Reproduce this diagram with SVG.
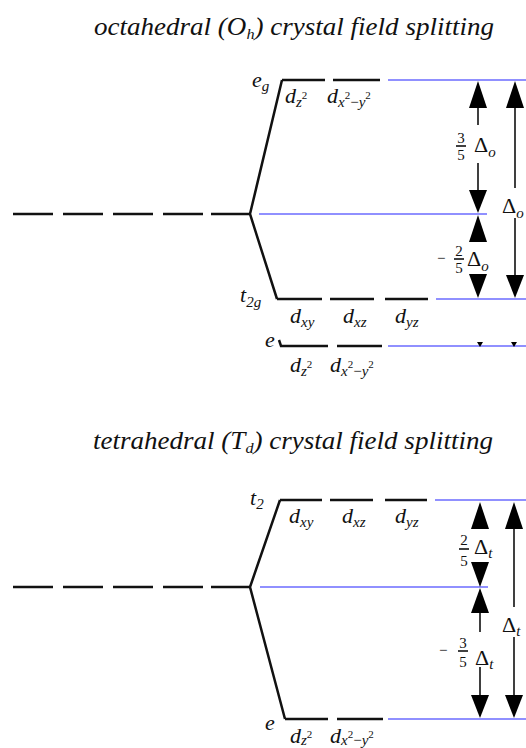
<svg xmlns="http://www.w3.org/2000/svg" width="526" height="748" viewBox="0 0 526 748" font-family="'Liberation Serif', serif">
<style>
text{font-style:italic;fill:#111}
.title{font-size:25px}
.lbl{font-size:22px}
.sub{font-size:15px}
.sup{font-size:11px;font-style:normal}
.num{font-size:15px;font-style:normal}
.del{font-size:22px;font-style:normal}
.lvl{stroke:#111;stroke-width:2.5;fill:none}
.blue{stroke:#6b6bff;stroke-width:1.6;fill:none}
.shaft{stroke:#111;stroke-width:1.6;fill:none}
.head{fill:#000}
</style>
<rect width="526" height="748" fill="#fff"/>

<g id="title-oct"><text class="title" x="94" y="35" textLength="400" lengthAdjust="spacingAndGlyphs" style="font-family:'Liberation Serif',serif">octahedral (O<tspan class="sub" dy="4">h</tspan><tspan dy="-4">) crystal field splitting</tspan></text></g>
<g id="title-tet"><text class="title" x="93" y="449" textLength="400" lengthAdjust="spacingAndGlyphs" style="font-family:'Liberation Serif',serif">tetrahedral (T<tspan class="sub" dy="4">d</tspan><tspan dy="-4">) crystal field splitting</tspan></text></g>

<!-- octahedral -->
<g id="oct-free">
<path class="lvl" d="M13,214H53M63,214H103M113,214H153M163,214H203M211,214H250"/>
<path class="blue" d="M259,214H487"/>
</g>
<g id="oct-eg">
<path class="lvl" d="M282,80H325M333,80H380"/>
<path class="blue" d="M388,80H526"/>
<text class="lbl" x="252" y="87" style="font-family:'Liberation Serif',serif">e<tspan class="sub" dy="4">g</tspan></text>
<text class="lbl" x="285" y="103" style="font-family:'Liberation Serif',serif">d<tspan class="sub" dy="4">z</tspan><tspan class="sup" dy="-8">2</tspan></text>
<text class="lbl" x="327" y="103" style="font-family:'Liberation Serif',serif">d<tspan class="sub" dy="4">x</tspan><tspan class="sup" dy="-8">2</tspan><tspan class="sub" dy="8" font-style="normal">−</tspan><tspan class="sub">y</tspan><tspan class="sup" dy="-8">2</tspan></text>
</g>
<g id="oct-t2g">
<path class="lvl" d="M277,299H322M330,299H374M385,299H428"/>
<path class="blue" d="M436,299H526"/>
<text class="lbl" x="240" y="302" style="font-family:'Liberation Serif',serif">t<tspan class="sub" dy="5">2g</tspan></text>
<text class="lbl" x="290" y="323" style="font-family:'Liberation Serif',serif">d<tspan class="sub" dy="4">xy</tspan></text>
<text class="lbl" x="343" y="323" style="font-family:'Liberation Serif',serif">d<tspan class="sub" dy="4">xz</tspan></text>
<text class="lbl" x="395" y="323" style="font-family:'Liberation Serif',serif">d<tspan class="sub" dy="4">yz</tspan></text>
</g>
<g id="oct-e">
<path class="lvl" d="M279,340L281,346H328M337,346H382"/>
<path class="blue" d="M388,346H526"/>
<text class="lbl" x="265" y="347" style="font-family:'Liberation Serif',serif">e</text>
<text class="lbl" x="290" y="372" style="font-family:'Liberation Serif',serif">d<tspan class="sub" dy="4">z</tspan><tspan class="sup" dy="-8">2</tspan></text>
<text class="lbl" x="330" y="372" style="font-family:'Liberation Serif',serif">d<tspan class="sub" dy="4">x</tspan><tspan class="sup" dy="-8">2</tspan><tspan class="sub" dy="8" font-style="normal">−</tspan><tspan class="sub">y</tspan><tspan class="sup" dy="-8">2</tspan></text>
</g>

<!-- tetrahedral -->
<g id="tet-free">
<path class="lvl" d="M13,587H53M63,587H103M113,587H153M163,587H203M211,587H250"/>
<path class="blue" d="M260,587H488"/>
</g>
<g id="tet-t2">
<path class="lvl" d="M280,500H322M330,500H373M385,500H427"/>
<path class="blue" d="M435,500H526"/>
<text class="lbl" x="250" y="505" style="font-family:'Liberation Serif',serif">t<tspan class="sub" dy="4">2</tspan></text>
<text class="lbl" x="289" y="523" style="font-family:'Liberation Serif',serif">d<tspan class="sub" dy="4">xy</tspan></text>
<text class="lbl" x="342" y="523" style="font-family:'Liberation Serif',serif">d<tspan class="sub" dy="4">xz</tspan></text>
<text class="lbl" x="395" y="523" style="font-family:'Liberation Serif',serif">d<tspan class="sub" dy="4">yz</tspan></text>
</g>
<g id="tet-e">
<path class="lvl" d="M285,719H328M337,719H383"/>
<path class="blue" d="M388,719H526"/>
<text class="lbl" x="265" y="730" style="font-family:'Liberation Serif',serif">e</text>
<text class="lbl" x="290" y="743" style="font-family:'Liberation Serif',serif">d<tspan class="sub" dy="2">z</tspan><tspan class="sup" dy="-7">2</tspan></text>
<text class="lbl" x="330" y="743" style="font-family:'Liberation Serif',serif">d<tspan class="sub" dy="2">x</tspan><tspan class="sup" dy="-7">2</tspan><tspan class="sub" dy="7" font-style="normal">−</tspan><tspan class="sub">y</tspan><tspan class="sup" dy="-7">2</tspan></text>
</g>

<g id="connectors">
<path class="lvl" d="M282,80L250,214L277,299"/>
<path class="lvl" d="M280,500L250,587L285,719"/>
</g>

<g id="oct-arrows">
<path class="shaft" d="M478,108V125M478,163V190M515,108V188M515,218V275"/>
<polygon class="head" points="478,81 469,108 487,108"/>
<polygon class="head" points="469,190 487,190 478,213"/>
<polygon class="head" points="478,215 469,242 487,242"/>
<polygon class="head" points="469,274 487,274 478,298"/>
<polygon class="head" points="515,81 506,108 524,108"/>
<polygon class="head" points="506,275 524,275 515,298"/>
<polygon class="head" points="477,342 483,342 480,347"/>
<polygon class="head" points="511,342 517,342 514,347"/>
<text class="num" x="461" y="143" text-anchor="middle" style="font-family:'Liberation Serif',serif">3</text>
<path class="shaft" d="M456,146H466" stroke-width="1"/>
<text class="num" x="461" y="160" text-anchor="middle" style="font-family:'Liberation Serif',serif">5</text>
<text class="del" x="474" y="152" style="font-family:'Liberation Serif',serif">Δ<tspan class="sub" font-style="italic" dy="5">o</tspan></text>
<text class="num" x="437" y="263" style="font-family:'Liberation Serif',serif">−</text>
<text class="num" x="459" y="256" text-anchor="middle" style="font-family:'Liberation Serif',serif">2</text>
<path class="shaft" d="M454,259H464" stroke-width="1"/>
<text class="num" x="459" y="273" text-anchor="middle" style="font-family:'Liberation Serif',serif">5</text>
<text class="del" x="467" y="266" style="font-family:'Liberation Serif',serif">Δ<tspan class="sub" font-style="italic" dy="5">o</tspan></text>
<text class="del" x="502" y="213" style="font-family:'Liberation Serif',serif">Δ<tspan class="sub" font-style="italic" dy="5">o</tspan></text>
</g>

<g id="tet-arrows">
<path class="shaft" d="M480,613V632M480,667V695M514,529V607M514,637V695"/>
<polygon class="head" points="480,502 471,529 489,529"/>
<polygon class="head" points="471,562 489,562 480,587"/>
<polygon class="head" points="480,588 471,613 489,613"/>
<polygon class="head" points="471,695 489,695 480,718"/>
<polygon class="head" points="514,502 505,529 523,529"/>
<polygon class="head" points="505,695 523,695 514,718"/>
<text class="num" x="464" y="545" text-anchor="middle" style="font-family:'Liberation Serif',serif">2</text>
<path class="shaft" d="M459,549H469" stroke-width="1"/>
<text class="num" x="464" y="566" text-anchor="middle" style="font-family:'Liberation Serif',serif">5</text>
<text class="del" x="474" y="554" style="font-family:'Liberation Serif',serif">Δ<tspan class="sub" font-style="italic" dy="4">t</tspan></text>
<text class="num" x="439" y="655" style="font-family:'Liberation Serif',serif">−</text>
<text class="num" x="463" y="648" text-anchor="middle" style="font-family:'Liberation Serif',serif">3</text>
<path class="shaft" d="M458,651H468" stroke-width="1"/>
<text class="num" x="463" y="667" text-anchor="middle" style="font-family:'Liberation Serif',serif">5</text>
<text class="del" x="475" y="665" style="font-family:'Liberation Serif',serif">Δ<tspan class="sub" font-style="italic" dy="4">t</tspan></text>
<text class="del" x="502" y="632" style="font-family:'Liberation Serif',serif">Δ<tspan class="sub" font-style="italic" dy="4">t</tspan></text>
</g>
</svg>
